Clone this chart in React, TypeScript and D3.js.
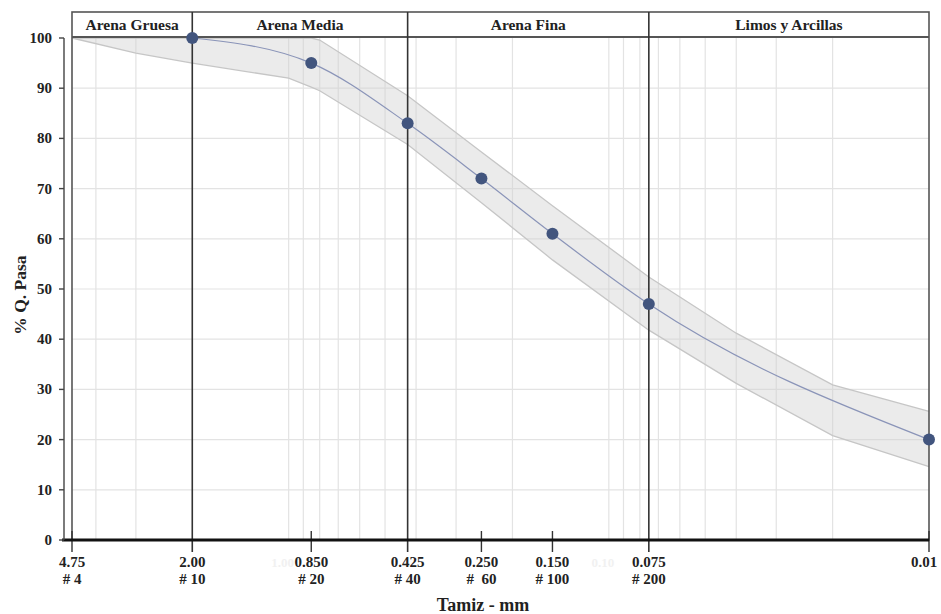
import React, { useEffect, useRef } from 'react';
import * as d3 from 'd3';

// sieve sizes (mm) and % passing
const sizes = [2.0, 0.85, 0.425, 0.25, 0.15, 0.075, 0.01];
const passing = [100, 95, 83, 72, 61, 47, 20];

// envelope of the band
const bandSizes = [4.75, 3.0, 2.0, 1.0, 0.85, 0.8, 0.425, 0.25, 0.15, 0.075, 0.04, 0.02, 0.01];
const bandUpper = [100, 100, 100, 100, 100, 99.6, 88.5, 77.3, 66.6, 52.4, 41.2, 30.9, 25.6];
const bandLower = [100, 97, 95, 92, 90.2, 89.5, 78.8, 67.2, 55.8, 41.8, 31.2, 20.8, 14.6];

const tickSizes = [4.75, 2.0, 0.85, 0.425, 0.25, 0.15, 0.075, 0.01];
const tickLabels = ['4.75', '2.00', '0.850', '0.425', '0.250', '0.150', '0.075', '0.01'];
const tickSieves = ['# 4', '# 10', '# 20', '# 40', '#  60', '# 100', '# 200', ''];
const ghostSizes = [1.0, 0.1];
const ghostLabels = ['1.00', '0.10'];

const gridSizes = [4, 3, 1, 0.9, 0.8, 0.7, 0.6, 0.5, 0.4, 0.3, 0.2, 0.1, 0.09, 0.08, 0.07, 0.06, 0.05, 0.04, 0.03, 0.02];
const yTicks = [0, 10, 20, 30, 40, 50, 60, 70, 80, 90, 100];

const zones = [
    { label: 'Arena Gruesa', from: 4.75, to: 2.0 },
    { label: 'Arena Media', from: 2.0, to: 0.425 },
    { label: 'Arena Fina', from: 0.425, to: 0.075 },
    { label: 'Limos y Arcillas', from: 0.075, to: 0.01 },
];
const dividers = [2.0, 0.425, 0.075];

const FONT = '"Liberation Serif", "Times New Roman", serif';

const App = () => {
    const svgRef = useRef(null);

    useEffect(() => {
        if (!svgRef.current) return;
        const W = 941, H = 614;
        const left = 72, right = 929, top = 38, bottom = 540, headTop = 12;

        const svg = d3.select(svgRef.current);
        svg.selectAll('*').remove();
        svg.attr('width', W).attr('height', H);

        const x = d3.scaleLog().domain([4.75, 0.01]).range([left, right]);
        const y = d3.scaleLinear().domain([0, 100]).range([bottom, top]);

        // grid
        svg.append('g').selectAll('line').data(yTicks.filter(d => d > 0 && d < 100)).enter().append('line')
            .attr('x1', left).attr('x2', right)
            .attr('y1', d => y(d)).attr('y2', d => y(d))
            .attr('stroke', '#e3e3e3').attr('stroke-width', 1.2);
        svg.append('g').selectAll('line').data(gridSizes).enter().append('line')
            .attr('x1', d => x(d)).attr('x2', d => x(d))
            .attr('y1', top).attr('y2', bottom)
            .attr('stroke', '#e3e3e3').attr('stroke-width', 1.2);

        // band
        const bandIdx = bandSizes.map((_, i) => i);
        const area = d3.area()
            .x(i => x(bandSizes[i]))
            .y0(i => y(bandLower[i]))
            .y1(i => y(bandUpper[i]));
        svg.append('path').datum(bandIdx).attr('d', area)
            .attr('fill', '#cfcfcf').attr('fill-opacity', 0.42);
        const upLine = d3.line().x(i => x(bandSizes[i])).y(i => y(bandUpper[i]));
        const loLine = d3.line().x(i => x(bandSizes[i])).y(i => y(bandLower[i]));
        svg.append('path').datum(bandIdx).attr('d', upLine).attr('fill', 'none').attr('stroke', '#c6c6c6').attr('stroke-width', 1.3);
        svg.append('path').datum(bandIdx).attr('d', loLine).attr('fill', 'none').attr('stroke', '#c6c6c6').attr('stroke-width', 1.3);

        // frame and header
        svg.append('rect').attr('x', left).attr('y', headTop).attr('width', right - left).attr('height', bottom - headTop)
            .attr('fill', 'none').attr('stroke', '#555').attr('stroke-width', 1.6);
        svg.append('line').attr('x1', left).attr('x2', right).attr('y1', 37).attr('y2', 37)
            .attr('stroke', '#555').attr('stroke-width', 2);

        svg.append('g').selectAll('text').data(zones).enter().append('text')
            .attr('x', d => (x(d.from) + x(d.to)) / 2).attr('y', 30)
            .attr('text-anchor', 'middle')
            .style('font-family', FONT).style('font-weight', 'bold').style('font-size', '15.5px').attr('fill', '#222')
            .text(d => d.label);

        // dividers
        svg.append('g').selectAll('line').data(dividers).enter().append('line')
            .attr('x1', d => x(d)).attr('x2', d => x(d))
            .attr('y1', headTop).attr('y2', 552)
            .attr('stroke', '#333').attr('stroke-width', 1.6);

        // bottom ticks
        svg.append('g').selectAll('line').data(tickSizes.filter(d => dividers.indexOf(d) < 0)).enter().append('line')
            .attr('x1', d => x(d)).attr('x2', d => x(d))
            .attr('y1', 531).attr('y2', 552)
            .attr('stroke', '#333').attr('stroke-width', 1.4);

        // x axis line
        svg.append('line').attr('x1', 62).attr('x2', right).attr('y1', bottom).attr('y2', bottom)
            .attr('stroke', '#111').attr('stroke-width', 3);

        // y axis
        svg.append('line').attr('x1', 64).attr('x2', 64).attr('y1', top).attr('y2', bottom)
            .attr('stroke', '#444').attr('stroke-width', 1.4);
        const yt = svg.append('g').selectAll('g').data(yTicks).enter().append('g');
        yt.append('line').attr('x1', 59).attr('x2', 64).attr('y1', d => y(d)).attr('y2', d => y(d))
            .attr('stroke', '#444').attr('stroke-width', 1.4);
        yt.append('text').attr('x', 52).attr('y', d => y(d) + 5).attr('text-anchor', 'end')
            .style('font-family', FONT).style('font-weight', 'bold').style('font-size', '15px').attr('fill', '#222')
            .text(d => d);

        // x labels
        const xl = svg.append('g').selectAll('g').data(tickSizes).enter().append('g');
        xl.append('text').attr('x', (d, i) => x(d) - (i === tickSizes.length - 1 ? 5 : 0)).attr('y', 567)
            .attr('text-anchor', 'middle')
            .style('font-family', FONT).style('font-weight', 'bold').style('font-size', '15px').attr('fill', '#222')
            .text((d, i) => tickLabels[i]);
        xl.append('text').attr('x', d => x(d)).attr('y', 584)
            .attr('text-anchor', 'middle').attr('xml:space', 'preserve')
            .style('white-space', 'pre')
            .style('font-family', FONT).style('font-weight', 'bold').style('font-size', '15px').attr('fill', '#222')
            .text((d, i) => tickSieves[i]);
        svg.append('g').selectAll('text').data(ghostSizes).enter().append('text')
            .attr('x', d => x(d) - 6).attr('y', 567).attr('text-anchor', 'middle')
            .style('font-family', FONT).style('font-weight', 'bold').style('font-size', '13px').attr('fill', '#f1f1f1')
            .text((d, i) => ghostLabels[i]);

        svg.append('text').attr('x', 483).attr('y', 611).attr('text-anchor', 'middle')
            .style('font-family', FONT).style('font-weight', 'bold').style('font-size', '18px').attr('fill', '#222')
            .text('Tamiz - mm');
        svg.append('text').attr('transform', 'translate(26,295) rotate(-90)').attr('text-anchor', 'middle')
            .style('font-family', FONT).style('font-weight', 'bold').style('font-size', '17.5px').attr('fill', '#222')
            .text('% Q. Pasa');

        // curve and points
        const idx = sizes.map((_, i) => i);
        const line = d3.line().x(i => x(sizes[i])).y(i => y(passing[i])).curve(d3.curveMonotoneX);
        svg.append('path').datum(idx).attr('d', line)
            .attr('fill', 'none').attr('stroke', '#8a94b8').attr('stroke-width', 1.2);
        svg.append('g').selectAll('circle').data(idx).enter().append('circle')
            .attr('cx', i => x(sizes[i])).attr('cy', i => y(passing[i])).attr('r', 6)
            .attr('fill', '#42557e');
    }, []);

    return (
        <svg ref={svgRef} style={{ position: 'absolute', left: 0, top: 0, display: 'block', background: '#fff' }}></svg>
    );
};

export default App;
